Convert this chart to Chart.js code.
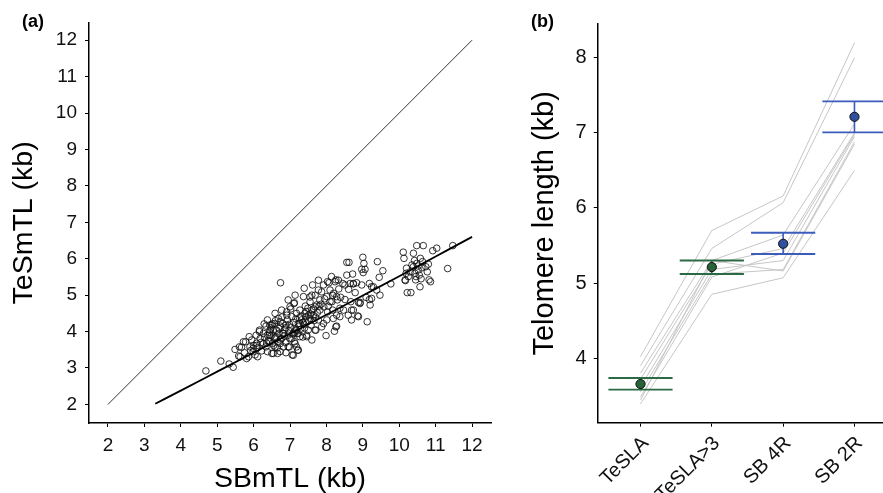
<!DOCTYPE html>
<html><head><meta charset="utf-8">
<script src="https://cdn.jsdelivr.net/npm/chart.js@4.4.0/dist/chart.umd.min.js"></script>
<style>
html,body{margin:0;padding:0;background:#fff;width:883px;height:493px;overflow:hidden;}
.wrap{position:absolute;top:0;}
.lbl{position:absolute;font-family:'Liberation Sans',Arial,sans-serif;font-weight:bold;font-size:18px;line-height:18px;color:#000;}
</style></head><body>
<div class="wrap" style="left:0;width:520px;height:493px"><canvas id="ca" width="520" height="493"></canvas></div>
<div class="wrap" style="left:520px;width:363px;height:493px"><canvas id="cb" width="363" height="493"></canvas></div>
<div class="lbl" style="left:22px;top:12px">(a)</div>
<div class="lbl" style="left:531px;top:12px">(b)</div>
<script>
// ---------- Panel (a) data ----------
const sbmtl = [
4.69,5.10,5.44,5.33,5.49,5.59,5.67,5.81,5.78,5.88,
5.99,6.04,6.08,6.16,6.29,6.18,6.36,6.43,6.45,6.50,
6.59,6.54,6.52,6.66,6.74,6.73,6.80,6.89,6.91,6.95,
7.00,7.06,7.11,7.18,7.21,7.23,7.27,7.37,7.41,7.46,
7.55,7.60,7.69,7.71,7.78,7.82,7.92,7.99,8.03,8.10,
8.17,8.22,8.28,8.26,8.30,8.37,8.51,8.56,8.62,8.65,
8.69,8.72,8.74,8.86,8.88,8.93,8.97,9.00,9.03,9.06,
9.12,9.18,9.18,9.24,9.40,9.45,9.47,9.55,9.77,10.11,
10.13,10.16,10.22,10.32,10.39,10.48,10.52,10.57,10.66,10.80,
10.82,10.86,10.92,11.03,11.33,11.47,10.20,10.30,10.39,10.43,
10.48,10.52,10.35,10.58,10.64,10.25,10.46,10.73,10.77,10.19,
10.42,10.62,10.55,10.45,10.60,10.17,
5.61,5.75,5.86,5.90,5.99,6.09,6.27,6.34,6.38,6.45,
6.50,6.57,6.63,6.68,6.73,6.77,6.82,6.89,6.93,7.02,
7.05,7.09,7.12,7.18,7.23,7.27,7.32,7.44,7.49,7.55,
7.60,7.64,7.69,7.73,7.78,7.87,7.93,8.03,8.07,8.10,
8.17,8.24,8.26,8.28,8.34,8.39,8.45,8.51,8.61,8.67,
8.79,8.83,8.88,8.92,9.01,9.09,9.24,9.29,
6.73,6.89,6.98,7.09,7.23,6.73,6.45,6.54,6.34,6.22,
6.11,5.95,5.72,5.63,6.38,7.14,7.27,7.50,7.69,7.87,
8.01,8.19,8.37,8.74,8.97,9.20,9.38,8.28,8.47,8.69,
7.46,7.60,6.82,6.59,6.27,6.16,6.07,6.38,6.59,6.77,
6.95,7.14,7.39,7.62,7.78,7.92,8.14,8.33,8.56,8.74,
8.60,8.01,7.82,7.18,7.05,6.91,6.73,6.50,
6.40,6.55,6.62,6.70,6.85,6.95,7.02,7.10,7.15,7.25,
7.30,7.35,7.40,7.45,7.52,7.58,7.65,7.70,7.75,6.48,
6.60,6.78,6.88,7.00,7.12,7.20,7.35,6.30,6.20,6.10,
6.00,5.92,6.65,7.42,7.55,7.85,7.95,8.05,8.15,8.20,
6.44,6.58,6.70,6.84,6.99,7.08,7.16,7.29,7.43,7.57,
6.52,6.67,6.80,6.97,7.13,7.26,7.38,7.51,7.66,7.80
];
const tesmtl = [
2.92,3.19,3.02,3.11,3.51,3.33,3.57,3.26,3.72,3.86,
3.54,3.36,3.68,4.00,4.21,3.81,3.68,3.90,4.18,3.40,
3.58,4.04,4.21,3.40,5.34,3.77,3.95,4.18,4.45,3.58,
4.68,3.36,4.77,3.58,3.49,3.95,4.22,4.96,4.50,3.86,
4.36,5.00,4.68,4.04,5.14,4.87,4.22,3.89,5.37,5.14,
4.59,4.01,4.15,5.42,4.87,4.41,5.28,5.90,5.90,5.32,
4.59,5.58,5.31,4.43,4.80,4.80,5.71,6.04,5.87,5.71,
4.27,4.88,5.32,5.23,5.92,5.49,5.00,5.67,5.31,6.18,
6.01,5.42,5.07,5.07,6.15,6.36,5.80,5.23,6.36,5.85,
5.42,5.37,6.22,6.29,5.73,6.36,5.74,5.64,5.78,5.60,
5.87,5.69,5.83,6.01,5.92,5.51,5.51,5.78,5.64,5.60,
5.95,5.75,5.55,5.42,5.45,5.40,
3.58,3.42,3.31,3.58,3.45,3.62,3.95,4.15,3.90,4.04,
4.18,4.22,4.04,4.36,4.15,3.81,3.95,4.11,4.32,4.62,
4.41,3.95,4.79,4.50,4.22,4.59,4.32,4.41,4.64,4.82,
4.59,4.45,5.00,4.73,4.32,5.09,4.68,4.54,5.34,4.82,
5.00,5.37,4.13,4.45,5.17,4.94,5.32,4.88,5.16,4.82,
5.07,5.34,4.41,4.77,5.62,4.94,4.91,5.23,
3.45,3.42,3.58,3.35,3.49,3.67,3.72,3.40,3.58,3.47,
3.31,3.77,3.72,3.31,3.45,3.67,3.86,4.04,4.04,4.13,
4.32,4.36,4.64,4.59,5.28,4.73,5.14,4.96,4.59,4.32,
3.90,3.77,3.58,3.84,3.67,4.04,3.90,4.32,4.50,4.59,
4.87,5.00,5.19,5.28,5.41,5.28,5.51,5.41,5.55,5.32,
4.45,4.96,4.59,4.04,3.81,4.54,4.27,3.90,
3.75,3.62,3.85,3.95,4.05,3.90,4.12,4.25,4.05,4.15,
4.42,4.25,4.10,4.55,4.30,4.18,4.62,4.40,4.52,4.10,
4.30,4.40,3.70,3.80,3.72,3.95,3.85,3.85,3.70,3.55,
3.62,3.48,3.55,4.70,4.95,4.75,4.90,4.70,4.82,5.05,
3.98,3.80,4.08,3.88,4.20,3.93,4.35,4.06,4.28,4.48,
3.68,3.72,4.22,4.02,3.98,4.38,4.20,4.45,4.30,4.70
];
const identityX = [2, 12];
const fitX = [3.3, 4, 5, 6, 7, 8, 9, 10, 11, 12];
const fitY = [2.02, 2.38, 2.90, 3.42, 3.94, 4.46, 4.99, 5.52, 6.06, 6.60];
const xTicksA = [2,3,4,5,6,7,8,9,10,11,12];
const yTicksA = [2,3,4,5,6,7,8,9,10,11,12];

// ---------- Panel (b) data ----------
const categories = ['TeSLA', 'TeSLA>3', 'SB 4R', 'SB 2R'];
const meanTL  = [3.655, 5.213, 5.523, 7.214];
const ciLower = [3.580, 5.120, 5.386, 7.007];
const ciUpper = [3.735, 5.300, 5.670, 7.420];
const sample1 = [4.02, 5.70, 6.16, 8.20];
const sample2 = [3.90, 5.46, 6.07, 8.00];
const sample3 = [3.80, 5.30, 5.64, 7.12];
const sample4 = [3.72, 5.25, 5.46, 7.00];
const sample5 = [3.62, 5.18, 5.30, 6.95];
const sample6 = [3.55, 5.12, 5.18, 6.88];
const sample7 = [3.48, 5.08, 5.40, 6.98];
const sample8 = [3.44, 5.30, 5.16, 6.85];
const sample9 = [3.39, 4.85, 5.07, 6.50];
const samples = [sample1, sample2, sample3, sample4, sample5, sample6, sample7, sample8, sample9];
const yTicksB = [4,5,6,7,8];

// ---------- styles ----------
const FONT = "'Liberation Sans', Arial, Helvetica, sans-serif";
const groupLine = ['#2a6b45', '#2a6b45', '#3b5cbd', '#3b5cbd'];
const groupFill = ['#276238', '#276238', '#2f4f9f', '#2f4f9f'];

function axisCommon(extra) {
  return Object.assign({
    type: 'linear',
    grid: {display: true, drawOnChartArea: false, drawTicks: true, tickLength: 4, tickColor: '#000', tickWidth: 1},
    border: {display: true, color: '#000', width: 1.5}
  }, extra);
}
function fixPad(s) { s.paddingLeft = 0; s.paddingRight = 0; s.paddingTop = 0; s.paddingBottom = 0; }

// ---------- Panel (a) ----------
new Chart(document.getElementById('ca'), {
  type: 'scatter',
  data: {
    datasets: [
      { data: fitX.map((x, i) => ({x, y: fitY[i]})), showLine: true, borderColor: '#000', borderWidth: 1.8,
        pointRadius: 0, cubicInterpolationMode: 'monotone', order: 1 },
      { data: identityX.map(x => ({x, y: x})), showLine: true, borderColor: '#000', borderWidth: 0.8,
        pointRadius: 0, order: 2 },
      { data: sbmtl.map((x, i) => ({x, y: tesmtl[i]})), showLine: false, pointRadius: 3.3,
        pointBackgroundColor: 'rgba(0,0,0,0)', pointBorderColor: '#111', pointBorderWidth: 0.85, order: 3 }
    ]
  },
  options: {
    responsive: false, animation: false, devicePixelRatio: 1,
    layout: {autoPadding: false, padding: {top: 22.7, right: 29, left: 0, bottom: 0}},
    plugins: {legend: {display: false}, tooltip: {enabled: false}},
    scales: {
      x: axisCommon({
        min: 1.48, max: 12.52,
        afterBuildTicks: s => { s.ticks = xTicksA.map(v => ({value: v})); },
        afterFit: s => { s.height = 70; fixPad(s); },
        ticks: {font: {family: FONT, size: 19}, color: '#111', padding: 7.5, maxRotation: 0, autoSkip: false, callback: v => String(v)},
        title: {display: true, text: 'SBmTL (kb)', color: '#000', font: {family: FONT, size: 28.5, lineHeight: 1}, padding: {top: 0, bottom: 0}}
      }),
      y: axisCommon({
        min: 1.49, max: 12.48,
        afterBuildTicks: s => { s.ticks = yTicksA.map(v => ({value: v})); },
        afterFit: s => { s.width = 89; fixPad(s); },
        ticks: {font: {family: FONT, size: 19}, color: '#111', padding: 8, autoSkip: false, callback: v => String(v)},
        title: {display: true, text: 'TeSmTL (kb)', color: '#000', font: {family: FONT, size: 28.5, lineHeight: 1}, padding: {top: 10, bottom: 0}}
      })
    }
  }
});

// ---------- Panel (b) ----------
const CAP = 0.45;
const dsB = [];
samples.forEach(s => dsB.push({
  data: s.map((v, i) => ({x: i, y: v})), showLine: true, borderColor: '#c6c6c6', borderWidth: 1,
  pointRadius: 0, order: 3
}));
categories.forEach((c, i) => {
  [ciUpper[i], ciLower[i]].forEach(v => dsB.push({
    data: [{x: i - CAP, y: v}, {x: i + CAP, y: v}], showLine: true, borderColor: groupLine[i],
    borderWidth: 1.9, pointRadius: 0, order: 2
  }));
  dsB.push({
    data: [{x: i, y: ciLower[i]}, {x: i, y: ciUpper[i]}], showLine: true, borderColor: groupLine[i],
    borderWidth: 1.6, pointRadius: 0, order: 2
  });
});
dsB.push({
  data: meanTL.map((v, i) => ({x: i, y: v})), showLine: false, pointRadius: 4.6,
  pointBackgroundColor: groupFill, pointBorderColor: '#111', pointBorderWidth: 1, order: 1
});

new Chart(document.getElementById('cb'), {
  type: 'scatter',
  data: {datasets: dsB},
  options: {
    responsive: false, animation: false, devicePixelRatio: 1,
    layout: {autoPadding: false, padding: {top: 24, right: 0, left: 0, bottom: 0}},
    plugins: {legend: {display: false}, tooltip: {enabled: false}},
    scales: {
      x: axisCommon({
        min: -0.6, max: 3.4,
        afterBuildTicks: s => { s.ticks = categories.map((c, i) => ({value: i})); },
        afterFit: s => { s.height = 70.3; fixPad(s); },
        ticks: {font: {family: FONT, size: 20}, color: '#111', padding: 5, minRotation: 45, maxRotation: 45, autoSkip: false,
                labelOffset: 5, callback: v => categories[v]}
      }),
      y: axisCommon({
        min: 3.14, max: 8.45,
        afterBuildTicks: s => { s.ticks = yTicksB.map(v => ({value: v})); },
        afterFit: s => { s.width = 77.7; fixPad(s); },
        ticks: {font: {family: FONT, size: 20}, color: '#111', padding: 7, autoSkip: false, callback: v => String(v)},
        title: {display: true, text: 'Telomere length (kb)', color: '#000', font: {family: FONT, size: 29, lineHeight: 1}, padding: {top: 10, bottom: 0}}
      })
    }
  }
});
</script>
</body></html>
